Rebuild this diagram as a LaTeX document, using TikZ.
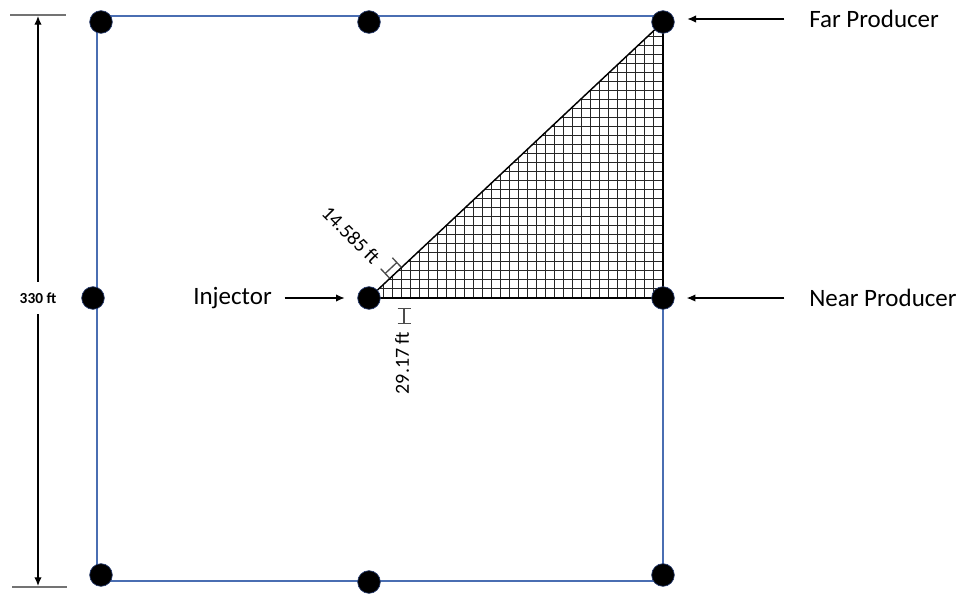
\documentclass[tikz,border=0pt]{standalone}
\usepackage{fontspec}
\setmainfont{Carlito}
\usetikzlibrary{arrows.meta}
\definecolor{boxblue}{RGB}{74,110,178}
\definecolor{dotrim}{RGB}{40,60,110}
\begin{document}
\begin{tikzpicture}[x=0.75pt,y=-0.75pt,
  well/.style={circle,fill=black,draw=dotrim,line width=0.5pt,minimum size=17pt,inner sep=0pt},
  lbl/.style={font=\fontsize{18.75}{22}\selectfont,inner sep=0pt},
  sizelbl/.style={font=\fontsize{15}{18}\selectfont,inner sep=0pt},
  ptr/.style={-{Latex[length=6.5pt,width=5.5pt]},line width=0.9pt},
  frame/.style={draw=boxblue,line width=1.1pt},
  cellline/.style={draw=black!85,line width=0.9pt},
  ibeam/.style={draw=black!70,line width=1pt},
  guide/.style={draw=black!55,line width=1pt}]
\useasboundingbox (0,0) rectangle (973,596);
% outer frame
\coordinate (c1) at (97,16);
\coordinate (c2) at (663,16);
\coordinate (c3) at (663,581);
\coordinate (c4) at (97,581);
\draw[frame] (c1) -- (c2) -- (c3) -- (c4) -- cycle;
% wells (positions)
\coordinate (pinj) at (369,298);
\coordinate (pfp) at (663,22);
\coordinate (pnp) at (663,298);
% triangle with grid
\fill[white] (pinj) -- (pfp) -- (pnp) -- cycle;
\begin{scope}
\clip (pinj) -- (pfp) -- (pnp) -- cycle;
\foreach \k in {0,...,34} \draw[cellline] ({662.5-\k*9},15) -- ({662.5-\k*9},300);
\foreach \k in {0,...,32} \draw[cellline] (360,{297.5-\k*9}) -- (670,{297.5-\k*9});
\end{scope}
\draw[line width=1.1pt] (pinj) -- (pfp);
\draw[line width=1.1pt] (pnp) -- (pfp);
\draw[line width=1.8pt] (pinj) -- (pnp);
% wells
\node[well] (tl) at (101,22) {};
\node[well] (tm) at (369,22) {};
\node[well] (fp) at (pfp) {};
\node[well] (ml) at (93,298) {};
\node[well] (inj) at (pinj) {};
\node[well] (np) at (pnp) {};
\node[well] (bl) at (101,575) {};
\node[well] (bm) at (369,582) {};
\node[well] (br) at (663,575) {};
% labels and pointers
\node[lbl,anchor=west] (fpl) at (809,19) {Far Producer};
\node[lbl,anchor=west] (npl) at (809,298) {Near Producer};
\node[lbl,anchor=east] (injl) at (272,298) {Injector};
\draw[ptr,shorten <=18.5pt,shorten >=9.5pt] (fpl.west) -- (fpl.west -| fp.east);
\draw[ptr,shorten <=18.5pt,shorten >=9pt] (npl.west) -- (np.east);
\draw[ptr,shorten <=9.5pt,shorten >=9.5pt] (injl.east) -- (inj.west);
% 330 ft dimension
\draw[guide] (10,15) -- (66,15);
\draw[guide] (12,587) -- (67,587);
\coordinate (dtop) at (38,16);
\coordinate (dbot) at (38,586);
\node[font=\bfseries\fontsize{11.5}{13}\selectfont,inner xsep=0pt,inner ysep=8pt,fill=white] (dim) at (38,298) {330 ft};
\draw[ptr] (dim.north) -- (dtop);
\draw[ptr] (dim.south) -- (dbot);
% cell size labels
\node[sizelbl,rotate=-45] (hlbl) at (351,235) {14.585 ft};
\node[sizelbl,rotate=90] (vlbl) at (402,363) {29.17 ft};
\begin{scope}[shift={(391,268)},rotate=43.2]
\draw[ibeam] (-8,0) -- (8,0);
\draw[ibeam] (-8,-6.5) -- (-8,6.5);
\draw[ibeam] (8,-6.5) -- (8,6.5);
\end{scope}
\begin{scope}[shift={(404,316)}]
\draw[ibeam] (0,-7.5) -- (0,7.5);
\draw[ibeam] (-6.5,-7.5) -- (6.5,-7.5);
\draw[ibeam] (-6.5,7.5) -- (6.5,7.5);
\end{scope}
\end{tikzpicture}
\end{document}
